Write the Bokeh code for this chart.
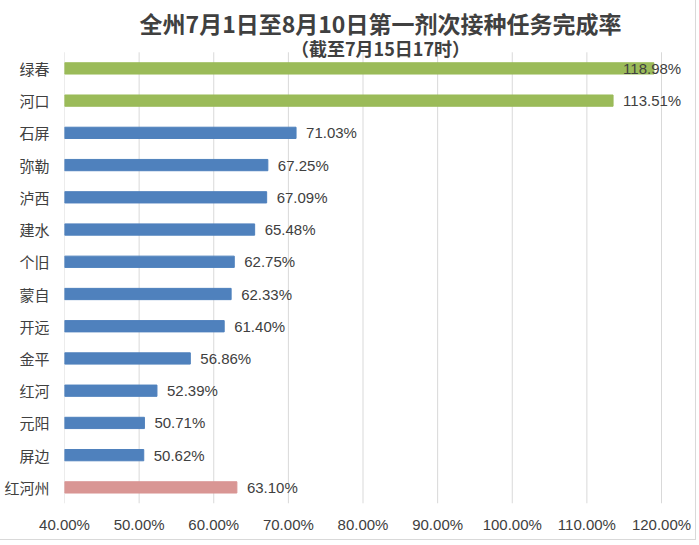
from bokeh.plotting import figure
from bokeh.models import Range1d, FixedTicker, PrintfTickFormatter, Label, LabelSet, ColumnDataSource
from bokeh.core.properties import value
from bokeh.embed import file_html
from bokeh.resources import INLINE

title_text = "全州7月1日至8月10日第一剂次接种任务完成率"
subtitle_text = "（截至7月15日17时）"

regions = ["绿春", "河口", "石屏", "弥勒", "泸西", "建水", "个旧", "蒙自", "开远", "金平", "红河", "元阳", "屏边", "红河州"]
rates = [118.98, 113.51, 71.03, 67.25, 67.09, 65.48, 62.75, 62.33, 61.40, 56.86, 52.39, 50.71, 50.62, 63.10]
groups = ["high", "high", "mid", "mid", "mid", "mid", "mid", "mid", "mid", "mid", "mid", "mid", "mid", "total"]
x_ticks = [40, 50, 60, 70, 80, 90, 100, 110, 120]

group_colors = {"high": "#9BBB59", "mid": "#4F81BD", "total": "#D99694"}
LABEL_MAX = 113.51  # labels past this are pulled back inside (as Excel does)

# layout (canvas pixels)
W, H = 696, 540
FL, FB = 64, 503          # frame left / bottom
AX_R = 661                # pixel where the last x tick sits
ROW_PX = 32.23            # row pitch

n = len(regions)
ypos = [n - 1 - i for i in range(n)]  # top row first
x_start, x_last = x_ticks[0], x_ticks[-1]
x_end = x_start + (W - FL) * (x_last - x_start) / (AX_R - FL)
y_end = -0.5 + FB / ROW_PX

p = figure(width=W, height=H, output_backend="svg", toolbar_location=None,
           x_range=Range1d(x_start, x_end), y_range=Range1d(-0.5, y_end),
           min_border_left=FL, min_border_right=0, min_border_top=0, min_border_bottom=H - FB)
p.outline_line_color = None
p.background_fill_color = "white"
p.border_fill_color = "white"
p.styles = {"border-right": "1px solid #d9d9d9", "border-bottom": "1px solid #d9d9d9"}
p.grid.grid_line_color = None

# vertical gridlines spanning only the category rows
p.segment(x0=x_ticks, x1=x_ticks, y0=[-0.5] * len(x_ticks), y1=[n - 0.5] * len(x_ticks),
          line_color="#d9d9d9", line_width=1)

src = ColumnDataSource(dict(
    y=ypos, rate=rates, base=[x_start] * n,
    color=[group_colors[g] for g in groups],
    label=["%.2f%%" % r for r in rates],
    lx=[min(r, LABEL_MAX) for r in rates],
))
p.hbar(y="y", left="base", right="rate", height=0.35, color="color", source=src)
p.add_layout(LabelSet(x="lx", y="y", text="label", source=src, x_offset=10, text_align="left",
                      text_baseline="middle", text_font=value("Liberation Sans"), text_font_size="15px",
                      text_color="#404040"))

p.xaxis.ticker = FixedTicker(ticks=x_ticks)
p.xaxis.formatter = PrintfTickFormatter(format="%.2f%%")
p.yaxis.ticker = FixedTicker(ticks=ypos)
p.yaxis.major_label_overrides = {yv: name for yv, name in zip(ypos, regions)}
for ax in (p.xaxis, p.yaxis):
    ax.axis_line_color = None
    ax.major_tick_line_color = None
    ax.minor_tick_line_color = None
    ax.major_label_text_color = "#404040"
p.xaxis.major_label_text_font = "Liberation Sans"
p.xaxis.major_label_text_font_size = "15px"
p.xaxis.major_label_standoff = 6
p.yaxis.major_label_text_font = "Noto Sans CJK SC"
p.yaxis.major_label_text_font_size = "15px"
p.yaxis.major_label_standoff = 9

# screen units are measured from the frame's bottom-left corner
p.add_layout(Label(x=380 - FL, y=FB - 22, x_units="screen", y_units="screen", text=title_text,
                   text_align="center", text_baseline="middle", text_font="Noto Sans CJK SC",
                   text_font_style="bold", text_font_size="23px", text_color="#404040"))
p.add_layout(Label(x=380 - FL, y=FB - 47, x_units="screen", y_units="screen", text=subtitle_text,
                   text_align="center", text_baseline="middle", text_font="Noto Sans CJK SC",
                   text_font_style="bold", text_font_size="18px", text_color="#404040"))

open("out.html", "w").write(file_html(p, INLINE))
